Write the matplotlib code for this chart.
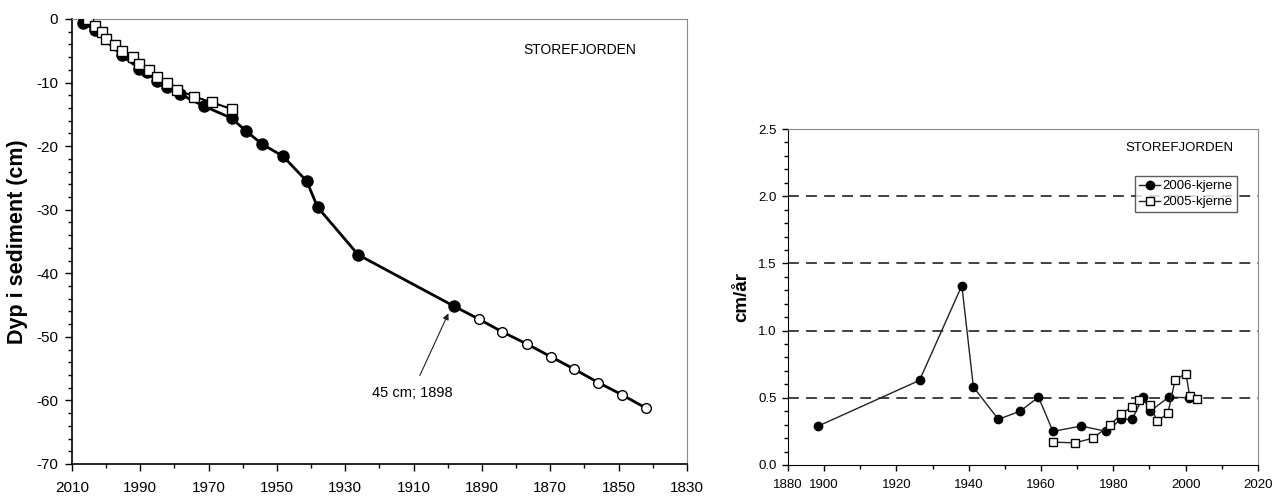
import matplotlib.pyplot as plt
from matplotlib.ticker import MultipleLocator, FixedLocator

plt.rcParams['font.family'] = ['Liberation Sans', 'DejaVu Sans']
plt.rcParams['axes.unicode_minus'] = False

# Left panel: depth vs year
years_2006 = [2006.7, 2003.3, 1995.5, 1990.3, 1988.1, 1985.2, 1982.3, 1978.4, 1971.4,
              1963.3, 1959.1, 1954.3, 1948.2, 1941.3, 1938.1, 1926.2, 1898.1]
depth_2006 = [-0.6, -1.7, -5.7, -7.8, -8.4, -9.7, -10.7, -11.8, -13.7,
              -15.6, -17.6, -19.7, -21.6, -25.5, -29.6, -37.1, -45.2]
years_ext = [1898.1, 1890.9, 1884.1, 1876.9, 1869.9, 1862.9, 1855.9, 1849.0, 1842.0]
depth_ext = [-45.2, -47.2, -49.2, -51.1, -53.1, -55.1, -57.2, -59.1, -61.2]
years_2005 = [2005.2, 2003.3, 2001.3, 2000.0, 1997.4, 1995.3, 1992.2, 1990.3, 1987.4,
              1985.2, 1982.3, 1979.2, 1974.3, 1969.1, 1963.1]
depth_2005 = [0.0, -1.1, -2.1, -3.1, -4.1, -5.1, -6.0, -7.1, -8.1,
              -9.2, -10.1, -11.1, -12.2, -13.1, -14.2]
left_xticks = [2010, 1990, 1970, 1950, 1930, 1910, 1890, 1870, 1850, 1830]

# Right panel: sedimentation rate
rate_years_2006 = [1898.4, 1926.4, 1938.1, 1941.3, 1948.2, 1954.2, 1959.3, 1963.3, 1971.1,
                   1978.1, 1982.1, 1985.2, 1988.2, 1990.2, 1995.3, 2001.0]
rate_2006 = [0.29, 0.63, 1.335, 0.58, 0.34, 0.40, 0.505, 0.25, 0.29,
             0.25, 0.34, 0.34, 0.505, 0.40, 0.505, 0.50]
rate_years_2005 = [1963.3, 1969.4, 1974.4, 1979.2, 1982.2, 1985.2, 1987.2, 1990.2, 1992.1,
                   1995.1, 1997.1, 2000.1, 2001.1, 2003.1]
rate_2005 = [0.17, 0.165, 0.20, 0.30, 0.38, 0.435, 0.485, 0.45, 0.325,
             0.385, 0.635, 0.68, 0.515, 0.49]
right_xticks = [1890, 1900, 1920, 1940, 1960, 1980, 2000, 2020]
right_xlabels = ['1880', '1900', '1920', '1940', '1960', '1980', '2000', '2020']

fig = plt.figure(figsize=(12.81, 4.97), dpi=100)

# ---- left chart
ax = fig.add_axes([0.0562, 0.0664, 0.480, 0.8954])
ax.plot(years_ext, depth_ext, color='black', lw=2, marker='o', ms=7,
        mfc='white', mec='black', mew=1, zorder=2)
ax.plot(years_2006, depth_2006, color='black', lw=2, marker='o', ms=8,
        mfc='black', mec='black', zorder=3)
ax.plot(years_2005, depth_2005, color='black', lw=1.5, marker='s', ms=7.5,
        mfc='white', mec='black', mew=1, zorder=4)

ax.set_xlim(2010, 1830)
ax.set_ylim(-70, 0)
ax.xaxis.set_major_locator(FixedLocator(left_xticks))
ax.xaxis.set_minor_locator(MultipleLocator(10))
ax.yaxis.set_major_locator(MultipleLocator(10))
ax.yaxis.set_minor_locator(MultipleLocator(2))
ax.tick_params(which='major', length=5, width=1, labelsize=11, pad=5)
ax.tick_params(axis='x', which='major', pad=7)
ax.tick_params(which='minor', length=3, width=1)
ax.set_ylabel('Dyp i sediment (cm)', fontsize=15.5, fontweight='bold', labelpad=6)
for s in ['top', 'right']:
    ax.spines[s].set_color('#8a8a8a')
for s in ['left', 'bottom']:
    ax.spines[s].set_linewidth(1.2)
ax.text(0.826, 0.930, 'STOREFJORDEN', transform=ax.transAxes, ha='center',
        va='center', fontsize=10)
ax.annotate('45 cm; 1898', xy=(1899.8, -46.3), xytext=(1910.5, -58.8),
            ha='center', va='center', fontsize=10.5,
            arrowprops=dict(arrowstyle='-|>', color='#222222', lw=0.8,
                            mutation_scale=9, shrinkA=6, shrinkB=0))

# ---- right chart
ax2 = fig.add_axes([0.6151, 0.0644, 0.3669, 0.676])
for yv in [0.5, 1.0, 1.5, 2.0]:
    ax2.axhline(yv, color='#333333', lw=1.3, ls=(0, (6, 4)), zorder=1)
ax2.plot(rate_years_2006, rate_2006, color='#222222', lw=1, marker='o', ms=6,
         mfc='black', mec='black', label='2006-kjerne', zorder=3)
ax2.plot(rate_years_2005, rate_2005, color='#222222', lw=1, marker='s', ms=6,
         mfc='white', mec='black', mew=1, label='2005-kjerne', zorder=4)

ax2.set_xlim(1890, 2020)
ax2.set_ylim(0, 2.5)
ax2.xaxis.set_major_locator(FixedLocator(right_xticks))
ax2.set_xticklabels(right_xlabels)
ax2.xaxis.set_minor_locator(MultipleLocator(10))
ax2.yaxis.set_major_locator(MultipleLocator(0.5))
ax2.yaxis.set_minor_locator(MultipleLocator(0.1))
ax2.yaxis.set_major_formatter(plt.FormatStrFormatter('%.1f'))
ax2.tick_params(which='major', length=4, width=1, labelsize=9.5, pad=4)
ax2.tick_params(axis='x', which='major', pad=6)
ax2.tick_params(which='minor', length=3, width=1)
ax2.set_ylabel('cm/år', fontsize=13.5, fontweight='bold', labelpad=6)
for s in ['top', 'right']:
    ax2.spines[s].set_color('#8a8a8a')
ax2.text(0.833, 0.943, 'STOREFJORDEN', transform=ax2.transAxes, ha='center',
         va='center', fontsize=9.5)
leg = ax2.legend(loc='upper right', bbox_to_anchor=(0.955, 0.860), fontsize=9.5,
                 frameon=True, fancybox=False, edgecolor='#333333',
                 handlelength=1.6, handletextpad=0.2, borderpad=0.3,
                 labelspacing=0.3, borderaxespad=0)
leg.get_frame().set_linewidth(1)

fig.savefig('out.png', dpi=100)
